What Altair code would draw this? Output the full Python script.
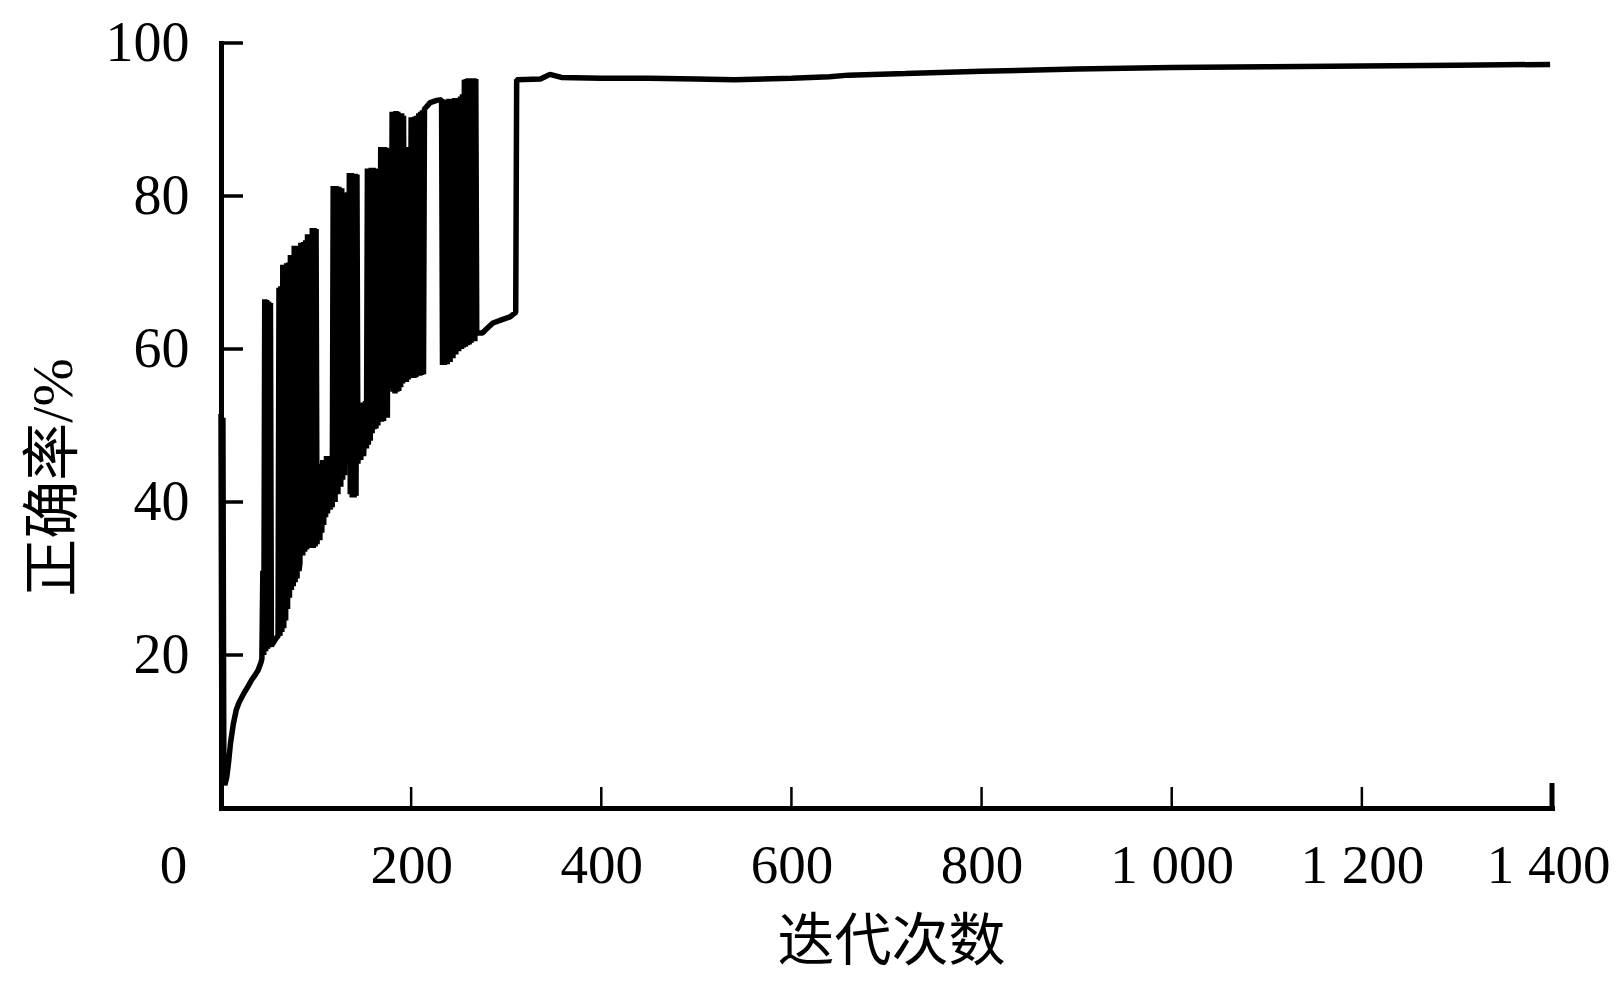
import altair as alt
import pandas as pd

# iteration index and accuracy (%)
iterations = [
    0, 1, 2, 3, 4, 6, 8, 10, 13, 16, 19, 22, 25, 28, 32, 36, 39, 42, 43,
    44, 45, 46, 47, 48, 49, 50, 51, 52, 53, 56, 58, 60,
    61, 62, 63, 64, 65, 66, 67, 68, 69, 70, 71, 72, 73, 74, 75, 76, 77, 78, 79, 80, 81,
    82, 83,
    84, 86, 87, 88, 89, 90, 91, 93, 94, 95, 96, 97, 98, 99, 100, 101,
    103, 104, 105, 106, 107, 108, 109, 110, 111, 112, 114, 115, 116, 117,
    118, 120, 121, 123, 124, 126, 127, 128, 129, 130, 131, 132, 133, 134, 135, 136,
    137, 138, 139, 140, 141, 142, 143,
    144, 146, 147, 149, 150, 152, 153,
    154, 155, 156, 157, 158, 159, 160, 161, 162, 163, 164, 165, 166, 167, 168, 169,
    170, 171, 172, 173, 174, 175, 176,
    177, 179,
    180, 181, 182, 183, 184, 185, 186, 187, 188, 189, 190, 191, 192, 193,
    194, 195, 196, 197, 198, 199,
    200, 201, 202, 203, 204, 205, 206, 207, 208, 209, 210, 211, 212, 213, 214,
    215, 220, 227, 232,
    233, 234, 235, 237, 238, 240, 241, 243, 244, 246, 247, 249, 250, 252, 253, 254, 255,
    256, 257, 258, 259, 260, 261, 262, 263, 264, 265, 266, 267, 268,
    269, 275, 280, 286, 295, 304, 310,
    311, 336, 346, 358, 400, 450, 500, 540, 600, 640, 660, 720, 800, 900,
    1000, 1100, 1200, 1300, 1398,
]
accuracy = [
    51.5, 5, 51, 4, 3, 4, 6, 8.5, 11, 12.8, 13.8, 14.5, 15.2, 15.8, 16.7, 17.4, 18, 19, 19.5,
    31, 20, 66.5, 20.5, 66.4, 20.8, 66.2, 21, 66, 21.2, 21.8, 22.2, 22.5,
    68, 22.5, 68.2, 23, 71, 23.5, 71, 24.5, 71.2, 26, 71.3, 27.5, 72.3, 28.5, 72.3, 29, 73.5, 29.5, 73.5, 30, 73.3,
    31, 32,
    73.9, 33, 74, 33.5, 74.2, 33.8, 75, 34, 75, 34, 75.8, 34, 75.8, 34.2, 75.7, 34.5,
    44, 35, 45, 36, 45.5, 37, 45.5, 38, 46, 38.5, 46, 39, 45, 39.3,
    81.3, 40, 81.3, 41, 81.2, 42, 81, 42.9, 80.4, 43.5, 80.4, 45, 80.5, 45, 83, 41,
    83, 40.6, 82.9, 40.6, 82.9, 40.8, 82.8,
    45, 53, 45.5, 53, 46, 53.2, 47,
    83.6, 47.5, 83.6, 48, 83.7, 49, 83.7, 49.5, 83.6, 49.6, 83.5, 50, 83, 50.5, 86.4, 50.5,
    86.4, 50.6, 86.4, 51, 86.3, 51, 86.2,
    55, 56,
    91, 54.4, 91, 54.2, 91.1, 54.4, 91, 54.5, 90.8, 55, 90.8, 55.5, 90.5, 55.7,
    86.4, 55.7, 86.4, 56, 86.3, 56.2,
    90.3, 56.3, 90.3, 56.2, 90.4, 56.3, 90.5, 56.5, 90.8, 56.5, 91, 56.6, 91.2, 56.7, 91.4,
    91.5, 92.2, 92.5, 92.6,
    57.9, 92.6, 57.9, 92.6, 58, 92.7, 58.3, 92.7, 58.8, 92.8, 59.3, 92.8, 59.7, 93, 60, 93.3, 60.2,
    95.2, 60.3, 95.3, 60.5, 95.4, 60.6, 95.4, 60.8, 95.4, 61, 95.4, 61, 95.3,
    62.1, 62.1, 62.7, 63.4, 63.8, 64.2, 64.8,
    95.2, 95.3, 95.9, 95.5, 95.4, 95.4, 95.3, 95.2, 95.4, 95.6, 95.8, 96.0, 96.3, 96.6,
    96.8, 96.9, 97.0, 97.1, 97.2,
]

x_ticks = [0, 200, 400, 600, 800, 1000, 1200, 1400]
y_ticks = [20, 40, 60, 80, 100]

df = pd.DataFrame({"iter": iterations, "acc": accuracy, "ord": list(range(len(iterations)))})

x_scale = alt.Scale(domain=[0, 1400], nice=False, zero=False)
y_scale = alt.Scale(domain=[0, 100], nice=False)

serif = "Liberation Serif"
title_font = "Liberation Serif, Noto Sans CJK SC"

x_axis = alt.Axis(
    values=x_ticks,
    title="迭代次数",
    labelExpr="replace(format(datum.value, ','), ',', ' ')",
    labelFont=serif,
    labelFontSize=55,
    labelColor="black",
    labelPadding=31,
    labelFlush=False,
    labelOverlap=False,
    labelOffset={
        "condition": [
            {"test": "datum.value == 0", "value": -48},
            {"test": "datum.value == 1400", "value": -4},
        ],
        "value": 0,
    },
    ticks=False,
    grid=False,
    domainWidth=5,
    domainColor="black",
    domainCap="square",
    titleFont=title_font,
    titleFontSize=57,
    titleFontWeight="normal",
    titleColor="black",
    titleX=670,
    titleY=134,
    titleBaseline="middle",
    titleAlign="center",
)

y_axis = alt.Axis(
    values=y_ticks,
    title="正确率/%",
    labelFont=serif,
    labelFontSize=56,
    labelColor="black",
    labelPadding=32,
    labelFlush=False,
    labelOverlap=False,
    ticks=False,
    grid=False,
    domainWidth=5,
    domainColor="black",
    domainCap="square",
    titleFont=title_font,
    titleFontSize=58,
    titleFontWeight="normal",
    titleColor="black",
    titleX=-167,
    titleY=434,
    titleAngle=270,
    titleBaseline="middle",
    titleAlign="center",
)

line = alt.Chart(df).mark_line(color="black", strokeWidth=5.5, strokeJoin="bevel").encode(
    x=alt.X("iter:Q", scale=x_scale, axis=x_axis),
    y=alt.Y("acc:Q", scale=y_scale, axis=y_axis),
    order="ord:Q",
)

ytick = alt.Chart(pd.DataFrame({"acc": y_ticks})).mark_rule(color="black", strokeWidth=3.5).encode(
    y=alt.Y("acc:Q", scale=y_scale, axis=y_axis),
    x=alt.value(0),
    x2=alt.value(22),
)

xtick = alt.Chart(pd.DataFrame({"iter": x_ticks[1:-1]})).mark_rule(color="black", strokeWidth=2.5).encode(
    x=alt.X("iter:Q", scale=x_scale, axis=x_axis),
    y=alt.value(765),
    y2=alt.value(744),
)

xtick_end = alt.Chart(pd.DataFrame({"iter": x_ticks[-1:]})).mark_rule(color="black", strokeWidth=5).encode(
    x=alt.X("iter:Q", scale=x_scale, axis=x_axis),
    y=alt.value(765),
    y2=alt.value(740),
)

chart = alt.layer(line, ytick, xtick, xtick_end).properties(
    width=1331,
    height=765,
    autosize=alt.AutoSizeParams(type="none"),
    padding={"left": 213, "top": 35, "right": 59, "bottom": 165},
    background="white",
).configure_view(stroke=None)

chart.save("out.html", embed_options={"renderer": "svg", "actions": False})
